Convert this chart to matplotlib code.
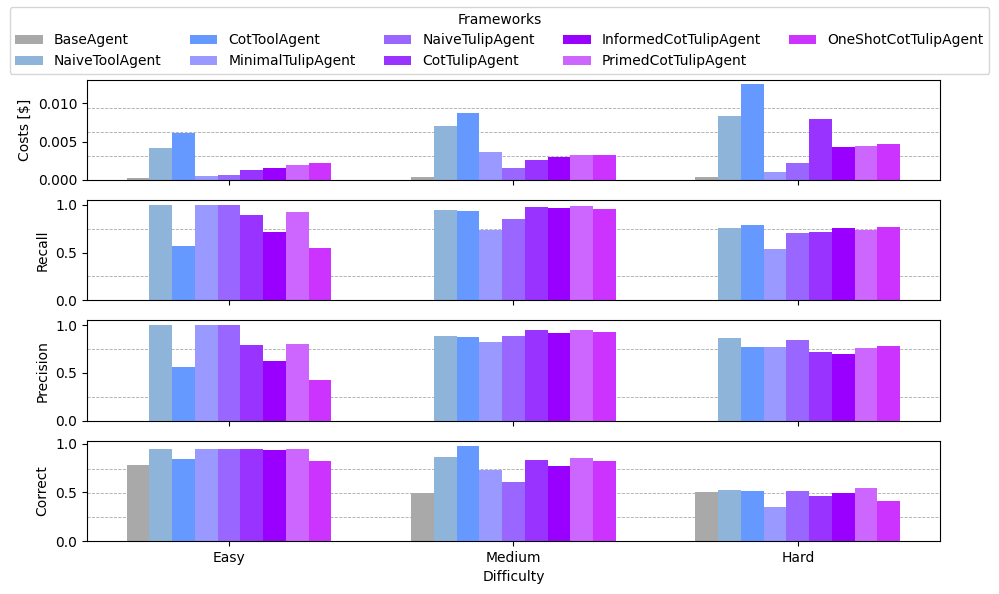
import numpy as np
import matplotlib.pyplot as plt

difficulties = ['Easy', 'Medium', 'Hard']
frameworks = ['BaseAgent', 'NaiveToolAgent', 'CotToolAgent', 'MinimalTulipAgent',
              'NaiveTulipAgent', 'CotTulipAgent', 'InformedCotTulipAgent',
              'PrimedCotTulipAgent', 'OneShotCotTulipAgent']
colors = ['#a9a9a9', '#8fb4d9', '#6699ff', '#9999ff', '#9966ff',
          '#9933ff', '#9900ff', '#cc66ff', '#cc33ff']

# rows: frameworks, cols: Easy, Medium, Hard
costs = [[0.0003, 0.0004, 0.0004],
         [0.0042, 0.0071, 0.0084],
         [0.0062, 0.0088, 0.0125],
         [0.0005, 0.0036, 0.0011],
         [0.0007, 0.0015, 0.0022],
         [0.0013, 0.0026, 0.0080],
         [0.0016, 0.0030, 0.0043],
         [0.0020, 0.0033, 0.0045],
         [0.0022, 0.0033, 0.0047]]
recall = [[0.0, 0.0, 0.0],
          [1.0, 0.95, 0.76],
          [0.57, 0.93, 0.79],
          [1.0, 0.74, 0.54],
          [1.0, 0.85, 0.70],
          [0.89, 0.98, 0.72],
          [0.72, 0.97, 0.76],
          [0.92, 0.99, 0.74],
          [0.55, 0.96, 0.77]]
precision = [[0.0, 0.0, 0.0],
             [1.0, 0.89, 0.87],
             [0.56, 0.88, 0.77],
             [1.0, 0.82, 0.77],
             [1.0, 0.89, 0.85],
             [0.79, 0.95, 0.72],
             [0.63, 0.92, 0.70],
             [0.80, 0.95, 0.76],
             [0.43, 0.93, 0.78]]
correct = [[0.78, 0.49, 0.50],
           [0.95, 0.86, 0.52],
           [0.84, 0.98, 0.51],
           [0.95, 0.73, 0.35],
           [0.95, 0.61, 0.51],
           [0.95, 0.83, 0.46],
           [0.93, 0.77, 0.49],
           [0.95, 0.85, 0.55],
           [0.82, 0.82, 0.41]]

metrics = [('Costs [$]', costs), ('Recall', recall),
           ('Precision', precision), ('Correct', correct)]

fig, axes = plt.subplots(4, 1, figsize=(9.99, 5.94), dpi=100, sharex=True)
fig.subplots_adjust(left=0.087, right=0.941, top=0.866, bottom=0.089, hspace=0.2)

x = np.arange(len(difficulties))
w = 0.08
for ax, (label, data) in zip(axes, metrics):
    data = np.array(data)
    for i, name in enumerate(frameworks):
        ax.bar(x + (i - 4) * w, data[i], w, color=colors[i], label=name)
    top = data.max()
    ax.set_yticks([top * k / 4 for k in (1, 2, 3)], minor=True)
    ax.tick_params(axis='y', which='minor', length=0)
    ax.grid(axis='y', which='minor', linestyle='--', linewidth=0.6, color='#aaaaaa')
    ax.set_axisbelow(True)
    ax.set_ylabel(label)
    ax.set_xlim(-0.5, 2.5)

axes[0].set_yticks([0, 0.005, 0.010])
axes[0].set_yticklabels(['0.000', '0.005', '0.010'])
for ax in axes[1:]:
    ax.set_yticks([0, 0.5, 1.0])
axes[-1].set_xticks(x)
axes[-1].set_xticklabels(difficulties)
axes[-1].set_xlabel('Difficulty')

handles, labels = axes[0].get_legend_handles_labels()
fig.legend(handles, labels, title='Frameworks', ncol=5, loc='upper center',
           bbox_to_anchor=(0.5, 1.0), fontsize=10)

fig.savefig('out.png')
